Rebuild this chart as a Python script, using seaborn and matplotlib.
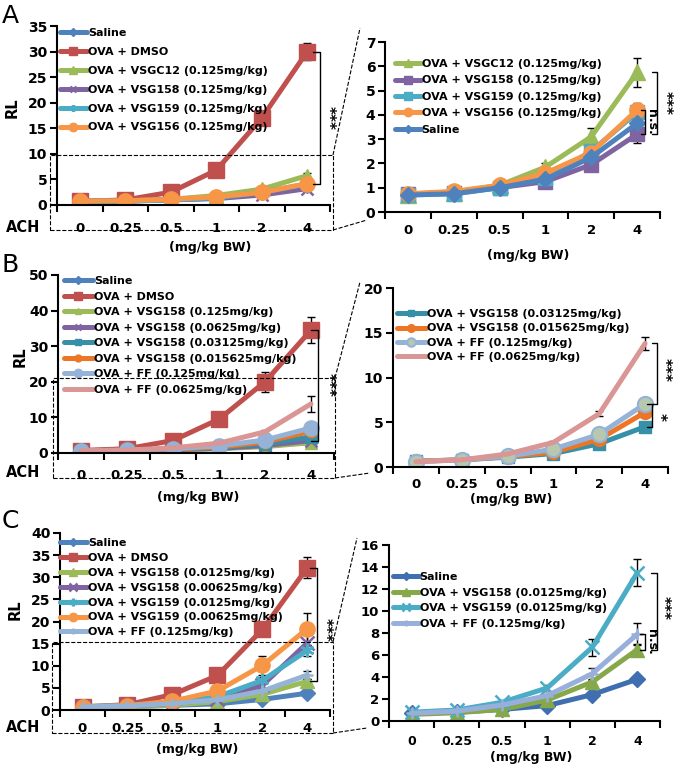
import numpy as np
import matplotlib
matplotlib.use("Agg")
import matplotlib.pyplot as plt
from matplotlib.lines import Line2D
from matplotlib.patches import Rectangle
import seaborn as sns

# dose categories (ACh, mg/kg BW)
doses = ['0', '0.25', '0.5', '1', '2', '4']
pos = list(range(len(doses)))

# ---- panel A ----
A_saline = [0.70, 0.75, 1.00, 1.35, 2.25, 3.65]
A_dmso = [0.70, 1.00, 2.50, 6.80, 17.0, 30.0]
A_vsgc12 = [0.72, 0.80, 1.10, 1.85, 3.10, 5.75]
A_vsg158 = [0.75, 0.80, 1.00, 1.25, 1.95, 3.20]
A_vsg159 = [0.70, 0.75, 1.00, 1.40, 2.50, 4.10]
A_vsg156 = [0.75, 0.85, 1.10, 1.60, 2.45, 4.20]
A_saline_err = [0.05, 0.05, 0.08, 0.10, 0.15, 0.20]
A_dmso_err = [0.10, 0.15, 0.30, 0.60, 1.00, 1.60]
A_vsgc12_err = [0.05, 0.05, 0.08, 0.15, 0.35, 0.60]
A_vsg158_err = [0.05, 0.05, 0.05, 0.10, 0.15, 0.35]
A_vsg159_err = [0.05, 0.05, 0.08, 0.10, 0.20, 0.35]
A_vsg156_err = [0.05, 0.05, 0.08, 0.10, 0.20, 0.30]

# ---- panel B ----
B_saline = [0.70, 0.80, 1.00, 1.30, 2.00, 3.00]
B_dmso = [0.70, 1.20, 3.50, 9.50, 20.0, 34.5]
B_158_125 = [0.60, 0.70, 0.90, 1.20, 1.80, 2.90]
B_158_0625 = [0.60, 0.75, 0.95, 1.30, 2.10, 3.50]
B_158_03125 = [0.65, 0.80, 1.10, 1.50, 2.60, 4.50]
B_158_015625 = [0.65, 0.80, 1.15, 1.65, 3.10, 6.10]
B_ff_125 = [0.60, 0.80, 1.20, 2.00, 3.65, 7.05]
B_ff_0625 = [0.60, 0.80, 1.45, 2.75, 5.95, 13.8]
B_dmso_err = [0.10, 0.20, 0.50, 1.20, 2.80, 3.70]
B_158_03125_err = [0.05, 0.05, 0.08, 0.12, 0.25, 0.35]
B_158_015625_err = [0.05, 0.05, 0.10, 0.15, 0.30, 0.45]
B_ff_125_err = [0.05, 0.05, 0.10, 0.15, 0.30, 0.40]
B_ff_0625_err = [0.05, 0.05, 0.10, 0.25, 0.40, 2.30]
B_ff_0625_err_zoom = [0.05, 0.05, 0.10, 0.15, 0.30, 0.75]

# ---- panel C ----
C_saline = [0.70, 0.80, 1.05, 1.40, 2.40, 3.80]
C_dmso = [0.70, 1.20, 3.50, 7.80, 18.2, 32.2]
C_158_0125 = [0.60, 0.75, 1.05, 1.90, 3.55, 6.50]
C_158_00625 = [0.70, 0.90, 1.40, 2.50, 5.60, 15.2]
C_159_0125 = [0.80, 1.00, 1.70, 3.00, 6.70, 13.5]
C_159_00625 = [0.70, 1.00, 2.00, 4.30, 10.1, 18.4]
C_ff_125 = [0.70, 0.90, 1.45, 2.30, 4.30, 7.90]
C_saline_err = [0.05, 0.05, 0.05, 0.10, 0.15, 0.15]
C_dmso_err = [0.10, 0.20, 0.40, 0.80, 1.50, 2.30]
C_158_0125_err = [0.05, 0.05, 0.10, 0.15, 0.30, 0.50]
C_158_00625_err = [0.05, 0.10, 0.15, 0.40, 1.50, 2.00]
C_159_0125_err = [0.05, 0.10, 0.15, 0.30, 0.80, 1.25]
C_159_00625_err = [0.05, 0.10, 0.20, 0.50, 2.20, 3.60]
C_ff_125_err = [0.05, 0.05, 0.10, 0.20, 0.55, 1.00]

sns.set_style("ticks", {"axes.edgecolor": "black", "xtick.color": "black",
                        "ytick.color": "black", "text.color": "black",
                        "axes.labelcolor": "black"})
plt.rcParams['font.family'] = ['DejaVu Sans']
plt.rcParams['font.weight'] = 'bold'

BLUE, RED, GREEN, PURPLE = '#4F81BD', '#C0504D', '#9BBB59', '#8064A2'
CYAN, ORANGE = '#4BACC6', '#F79646'
TEAL, ORANGE2, LBLUE, PINK = '#3590A8', '#EC7626', '#95B3D7', '#D99694'
DBLUE, GREEN2, LPURP = '#3F6FB0', '#86A84A', '#98AEDB'
STAR = (6, 2, 0)

W, H = 677, 772
fig = plt.figure(figsize=(6.77, 7.72), dpi=100)


def box(x0, y0, x1, y1):
    return [x0 / W, 1 - y1 / H, (x1 - x0) / W, (y1 - y0) / H]


def fpt(x, y):
    return (x / W, 1 - y / H)


def series(ax, y, color, marker, label, err=None, ms=9, mfc=None, mew=1.0, lw=3.6):
    sns.lineplot(x=pos, y=y, ax=ax, color=color, linewidth=lw, marker=marker,
                 markersize=ms, markerfacecolor=mfc if mfc else color,
                 markeredgecolor=color, markeredgewidth=mew,
                 errorbar=None, legend=False)
    line = ax.lines[-1]
    line.set_label(label)
    if err is not None:
        ax.errorbar(pos, y, yerr=err, fmt='none', ecolor='black', elinewidth=1,
                    capsize=3, capthick=1, zorder=1.5)
    return line


def style_axis(ax, ymax, ystep, pad, fs=10):
    ax.set_xlim(-0.5, 5.5)
    ax.set_ylim(0, ymax)
    ax.set_yticks(np.arange(0, ymax + 0.01, ystep))
    ax.set_xticks(pos)
    ax.set_xticklabels(doses)
    ax.set_xticks(np.arange(-0.5, 6, 1), minor=True)
    ax.tick_params(axis='x', which='major', length=0, pad=pad, labelsize=fs - 0.5)
    ax.tick_params(axis='x', which='minor', length=5, width=1.5, direction='out')
    ax.tick_params(axis='y', length=5, width=1.5, direction='out', labelsize=fs, pad=2)
    sns.despine(ax=ax)
    for s in ['left', 'bottom']:
        ax.spines[s].set_linewidth(1.5)
    ax.set_xlabel('')
    ax.set_ylabel('')


def legend(ax, handles, x, y, ls, hl=2.5, fs=8):
    ax.legend(handles=handles, loc='upper left', bbox_to_anchor=fpt(x, y),
              bbox_transform=fig.transFigure, frameon=False, fontsize=fs,
              handlelength=hl, handletextpad=0.1, labelspacing=ls,
              borderpad=0, borderaxespad=0, markerscale=0.55)


def bracket(ax, x, y0, y1, text, tx, ty, fs=11, tick=0.15):
    ax.plot([x - tick, x, x, x - tick], [y0, y0, y1, y1], color='black', lw=1,
            clip_on=False)
    ax.text(tx, ty, text, rotation=270, ha='center', va='center', fontsize=fs,
            clip_on=False)


def zoom_box(x0, y0, x1, y1, up, low):
    fig.add_artist(Rectangle(fpt(x0, y1), (x1 - x0) / W, (y1 - y0) / H,
                             transform=fig.transFigure, fill=False, ls='--',
                             lw=0.8, ec='black'))
    for (xa, ya), (xb, yb) in [((x1, y0), up), ((x1, y1), low)]:
        fig.add_artist(Line2D([xa / W, xb / W], [1 - ya / H, 1 - yb / H],
                              transform=fig.transFigure, ls='--', lw=0.8,
                              color='black'))


# ================= A =================
ax = fig.add_axes(box(57, 26, 330, 205))
h = [series(ax, A_saline, BLUE, 'D', 'Saline', A_saline_err, ms=7),
     series(ax, A_dmso, RED, 's', 'OVA + DMSO', A_dmso_err, ms=11),
     series(ax, A_vsgc12, GREEN, '^', 'OVA + VSGC12 (0.125mg/kg)', A_vsgc12_err, ms=10),
     series(ax, A_vsg158, PURPLE, 'x', 'OVA + VSG158 (0.125mg/kg)', A_vsg158_err, ms=9, mew=1.8),
     series(ax, A_vsg159, CYAN, STAR, 'OVA + VSG159 (0.125mg/kg)', A_vsg159_err, ms=9, mew=1.8),
     series(ax, A_vsg156, ORANGE, 'o', 'OVA + VSG156 (0.125mg/kg)', A_vsg156_err, ms=11)]
style_axis(ax, 35, 5, 12)
legend(ax, h, 60, 28, 0.8, hl=2.4)
bracket(ax, 5.28, A_dmso[-1], A_vsg158[-1] + 1, '***', 5.46, 17)

ax = fig.add_axes(box(385, 42, 660, 212))
h = [series(ax, A_vsgc12, GREEN, '^', 'OVA + VSGC12 (0.125mg/kg)', A_vsgc12_err, ms=11),
     series(ax, A_vsg158, PURPLE, 's', 'OVA + VSG158 (0.125mg/kg)', A_vsg158_err, ms=10),
     series(ax, A_vsg159, CYAN, 's', 'OVA + VSG159 (0.125mg/kg)', A_vsg159_err, ms=10),
     series(ax, A_vsg156, ORANGE, 'o', 'OVA + VSG156 (0.125mg/kg)', A_vsg156_err, ms=11),
     series(ax, A_saline, BLUE, 'D', 'Saline', A_saline_err, ms=8)]
style_axis(ax, 7, 1, 9)
legend(ax, h, 395, 59, 0.58, hl=2.3)
bracket(ax, 5.18, A_vsg156[-1], A_vsg158[-1], 'n.s.', 5.32, 3.7, fs=9, tick=0.1)
bracket(ax, 5.44, A_vsgc12[-1], A_vsg158[-1], '***', 5.61, 4.5, tick=0.12)

zoom_box(50, 155, 333, 230, (360, 28), (367, 220))

# ================= B =================
ax = fig.add_axes(box(58, 275, 334, 453))
h = [series(ax, B_saline, BLUE, 'D', 'Saline', ms=7),
     series(ax, B_dmso, RED, 's', 'OVA + DMSO', B_dmso_err, ms=11),
     series(ax, B_158_125, GREEN, '^', 'OVA + VSG158 (0.125mg/kg)', ms=8),
     series(ax, B_158_0625, PURPLE, 'x', 'OVA + VSG158 (0.0625mg/kg)', ms=8, mew=1.8),
     series(ax, B_158_03125, TEAL, 's', 'OVA + VSG158 (0.03125mg/kg)', B_158_03125_err, ms=9),
     series(ax, B_158_015625, ORANGE2, 'o', 'OVA + VSG158 (0.015625mg/kg)', B_158_015625_err, ms=9),
     series(ax, B_ff_125, LBLUE, 'o', 'OVA + FF (0.125mg/kg)', B_ff_125_err, ms=11),
     series(ax, B_ff_0625, PINK, None, 'OVA + FF (0.0625mg/kg)', B_ff_0625_err)]
style_axis(ax, 50, 10, 11.5)
legend(ax, h, 64, 276, 0.5, hl=2.6)
bracket(ax, 5.15, B_dmso[-1], 3.3, '***', 5.37, 19)

ax = fig.add_axes(box(393, 288, 668, 467))
h = [series(ax, B_158_03125, TEAL, 's', 'OVA + VSG158 (0.03125mg/kg)', B_158_03125_err, ms=9),
     series(ax, B_158_015625, ORANGE2, 'o', 'OVA + VSG158 (0.015625mg/kg)', B_158_015625_err, ms=10),
     series(ax, B_ff_125, LBLUE, 'o', 'OVA + FF (0.125mg/kg)', B_ff_125_err, ms=11, mfc='#B7C8AE', mew=1.5),
     series(ax, B_ff_0625, PINK, None, 'OVA + FF (0.0625mg/kg)', B_ff_0625_err_zoom)]
style_axis(ax, 20, 5, 8)
legend(ax, h, 397, 309, 0.4, hl=2.6)
bracket(ax, 5.26, B_ff_0625[-1], B_ff_125[-1], '***', 5.42, 10.8, tick=0.1)
bracket(ax, 5.15, B_ff_125[-1], B_158_03125[-1], '*', 5.31, 5.6, tick=0.1)

zoom_box(53, 378, 335, 478, (360, 282), (370, 473))

# ================= C =================
ax = fig.add_axes(box(60, 533, 330, 710))
h = [series(ax, C_saline, BLUE, 'D', 'Saline', C_saline_err, ms=8),
     series(ax, C_dmso, RED, 's', 'OVA + DMSO', C_dmso_err, ms=11),
     series(ax, C_158_0125, GREEN, '^', 'OVA + VSG158 (0.0125mg/kg)', C_158_0125_err, ms=10),
     series(ax, C_158_00625, PURPLE, 'x', 'OVA + VSG158 (0.00625mg/kg)', C_158_00625_err, ms=10, mew=1.8),
     series(ax, C_159_0125, CYAN, STAR, 'OVA + VSG159 (0.0125mg/kg)', C_159_0125_err, ms=10, mew=1.8),
     series(ax, C_159_00625, ORANGE, 'o', 'OVA + VSG159 (0.00625mg/kg)', C_159_00625_err, ms=11),
     series(ax, C_ff_125, LBLUE, '+', 'OVA + FF (0.125mg/kg)', C_ff_125_err, ms=9, mew=1.8)]
style_axis(ax, 40, 5, 9)
legend(ax, h, 60, 538, 0.44, hl=2.4)
bracket(ax, 5.21, C_dmso[-1], C_158_0125[-1], '***', 5.39, 18)

ax = fig.add_axes(box(389, 545, 660, 721))
h = [series(ax, C_saline, DBLUE, 'D', 'Saline', C_saline_err, ms=8),
     series(ax, C_158_0125, GREEN2, '^', 'OVA + VSG158 (0.0125mg/kg)', C_158_0125_err, ms=10),
     series(ax, C_159_0125, CYAN, 'x', 'OVA + VSG159 (0.0125mg/kg)', C_159_0125_err, ms=10, mew=1.8),
     series(ax, C_ff_125, LPURP, '+', 'OVA + FF (0.125mg/kg)', C_ff_125_err, ms=9, mew=1.8)]
style_axis(ax, 16, 2, 10, fs=9.5)
legend(ax, h, 393, 572, 0.5, hl=2.3)
bracket(ax, 5.16, C_ff_125[-1], C_158_0125[-1], 'n.s.', 5.32, 7.2, fs=9, tick=0.1)
bracket(ax, 5.43, C_159_0125[-1], C_158_0125[-1], '***', 5.58, 10.3, tick=0.12)

zoom_box(52, 642, 333, 733, (357, 538), (367, 728))

# ---- shared labels ----
for (x, y, s) in [(2, 16, 'A'), (2, 265, 'B'), (2, 521, 'C')]:
    fig.text(*fpt(x, y), s, fontsize=18, fontweight='normal', va='center', ha='left')
for (x, y) in [(12, 108), (20, 357), (15, 610)]:
    fig.text(*fpt(x, y), 'RL', fontsize=10.5, rotation=90, va='center', ha='center')
for (x, y) in [(6, 228), (6, 473), (6, 728)]:
    fig.text(*fpt(x, y), 'ACH', fontsize=10.5, va='center', ha='left')
for (x, y) in [(210, 248), (528, 255), (198, 498), (511, 500), (197, 750), (531, 757)]:
    fig.text(*fpt(x, y), '(mg/kg BW)', fontsize=9, va='center', ha='center')

fig.savefig('out.png', dpi=100)
